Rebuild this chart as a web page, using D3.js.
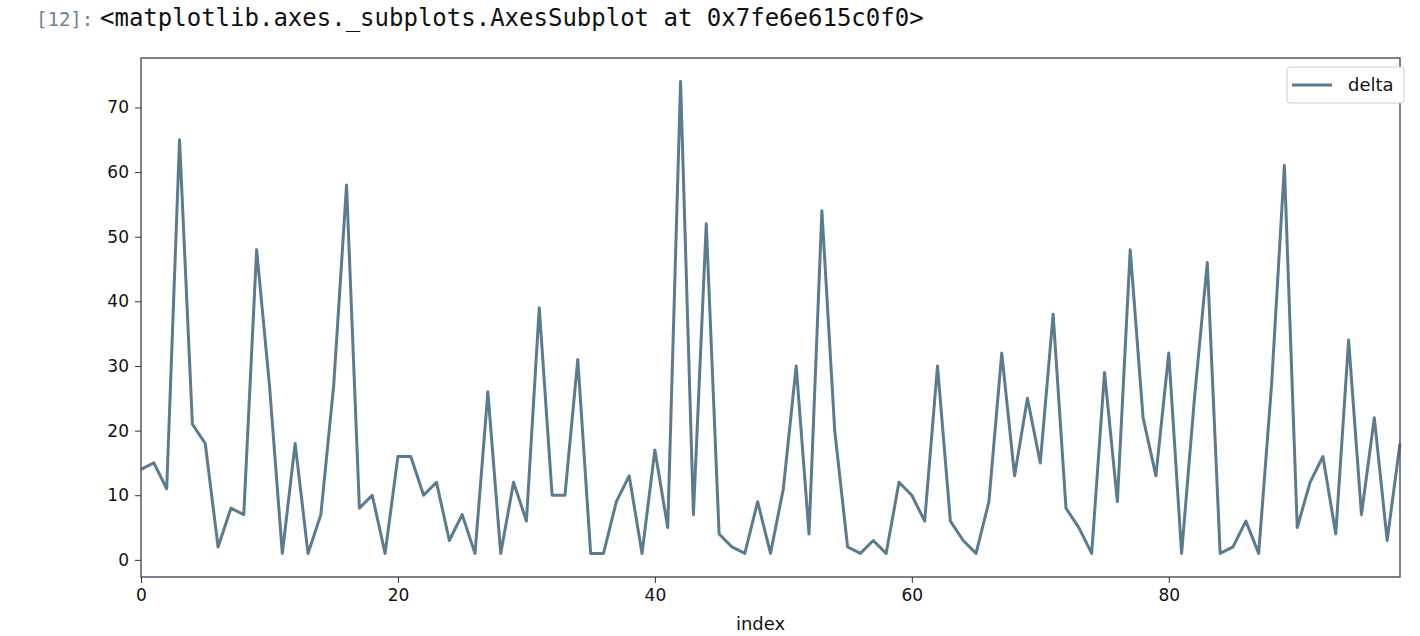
<!DOCTYPE html>
<html><head><meta charset="utf-8">
<script src="https://cdn.jsdelivr.net/npm/d3@7"></script>
<style>body{margin:0;background:#fff}</style>
</head><body><svg id="c" width="1420" height="636"></svg>
<script>
const seriesName = "delta";
const delta = [14,15,11,65,21,18,2,8,7,48,27,1,18,1,7,27,58,8,10,1,16,16,10,12,3,7,1,26,1,12,6,39,10,10,31,1,1,9,13,1,17,5,74,7,52,4,2,1,9,1,11,30,4,54,20,2,1,3,1,12,10,6,30,6,3,1,9,32,13,25,15,38,8,5,1,29,9,48,22,13,32,1,25,46,1,2,6,1,27,61,5,12,16,4,34,7,22,3,18];
const xTicks = [0,20,40,60,80];
const yTicks = [0,10,20,30,40,50,60,70];

const svg = d3.select("#c");
const L=141,R=1400,T=58,B=577;
const x = d3.scaleLinear().domain([0, delta.length-1]).range([L,R]);
const y = d3.scaleLinear().domain([-2.65,77.65]).range([B,T]);

svg.append("text").attr("x",36).attr("y",26).attr("font-family","DejaVu Sans Mono").attr("font-size",19)
  .attr("fill","#6b8299").text("[12]:");
svg.append("text").attr("x",100).attr("y",26).attr("font-family","DejaVu Sans Mono").attr("font-size",24)
  .attr("fill","#111").text("<matplotlib.axes._subplots.AxesSubplot at 0x7fe6e615c0f0>");

const line = d3.line().x((d,i)=>x(i)).y(d=>y(d));
svg.append("path").datum(delta).attr("d",line).attr("fill","none")
  .attr("stroke","#5b7b8e").attr("stroke-width",3).attr("stroke-linejoin","round");

svg.append("rect").attr("x",L).attr("y",T).attr("width",R-L).attr("height",B-T)
  .attr("fill","none").attr("stroke","#556").attr("stroke-width",1.5);

const xa = svg.append("g").attr("transform",`translate(0,${B})`)
  .call(d3.axisBottom(x).tickValues(xTicks).tickSize(6).tickPadding(6).tickFormat(d3.format("d")));
const ya = svg.append("g").attr("transform",`translate(${L},0)`)
  .call(d3.axisLeft(y).tickValues(yTicks).tickSize(6).tickPadding(6).tickFormat(d3.format("d")));
[xa,ya].forEach(a=>{a.select(".domain").remove();
  a.selectAll("text").attr("font-family","DejaVu Sans").attr("font-size",17).attr("fill","#111");
  a.selectAll("line").attr("stroke","#333");});
svg.append("text").attr("x",(L+R)/2-10).attr("y",630).attr("text-anchor","middle")
  .attr("font-family","DejaVu Sans").attr("font-size",18).attr("fill","#111").text("index");

const lg = svg.append("g");
lg.append("rect").attr("x",1287).attr("y",67).attr("width",117).attr("height",36).attr("rx",3)
  .attr("fill","#fff").attr("stroke","#ccd").attr("stroke-width",1);
lg.append("line").attr("x1",1292).attr("x2",1332).attr("y1",85).attr("y2",85)
  .attr("stroke","#5b7b8e").attr("stroke-width",3);
lg.append("text").attr("x",1348).attr("y",91).attr("font-family","DejaVu Sans").attr("font-size",18)
  .attr("fill","#111").text(seriesName);
</script></body></html>
